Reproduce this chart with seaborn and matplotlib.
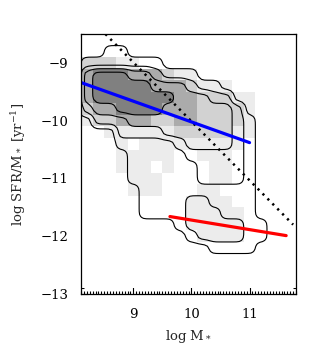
import numpy as np
import matplotlib
matplotlib.use("Agg")
import matplotlib.pyplot as plt
from matplotlib.colors import ListedColormap, BoundaryNorm
from matplotlib.ticker import MultipleLocator
import seaborn as sns

# 2d histogram bins (centres, 0.2 dex)
mass_bins = [8.2, 8.4, 8.6, 8.8, 9.0, 9.2, 9.4, 9.6, 9.8, 10.0,
             10.2, 10.4, 10.6, 10.8, 11.0, 11.2, 11.4, 11.6, 11.8]
ssfr_bins = [-8.6, -8.8, -9.0, -9.2, -9.4, -9.6, -9.8, -10.0, -10.2, -10.4, -10.6,
             -10.8, -11.0, -11.2, -11.4, -11.6, -11.8, -12.0, -12.2, -12.4, -12.6, -12.8]

# grey level of each bin (0 = empty ... 4 = densest), one string per ssfr row
shade_rows = [
    "0000000000000000000",
    "0000000000000000000",
    "2221100000000000000",
    "3444333211000000000",
    "3444443332111000000",
    "3444444433222110000",
    "2334444333222210000",
    "1223332233222210000",
    "0011111122222110000",
    "0001011111111100000",
    "0001111100111000000",
    "0001110100011000000",
    "0000111000011000000",
    "0000111000110000000",
    "0000000001111000000",
    "0000000001111100000",
    "0000000001111100000",
    "0000000000111100000",
    "0000000000000000000",
    "0000000000000000000",
    "0000000000000000000",
    "0000000000000000000",
]

# number of density contours enclosing each bin
contour_rows = [
    "0000000000000000000",
    "0011000000000000000",
    "1111111000000000000",
    "3444332111000000000",
    "3444443332110000000",
    "3444444433322000000",
    "2334444333333200000",
    "0222333333333210000",
    "0002222333333210000",
    "0001111123333210000",
    "0000111112222210000",
    "0000111111222210000",
    "0000111111222210000",
    "0000011111111110000",
    "0000011112211110000",
    "0000011112221110000",
    "0000000012222211000",
    "0000000001222211000",
    "0000000000011110000",
    "0000000000000000000",
    "0000000000000000000",
    "0000000000000000000",
]

# fitted relations
blue_mass = [8.1, 11.0]
blue_ssfr = [-9.34, -10.38]
red_mass = [9.63, 11.63]
red_ssfr = [-11.66, -11.99]
cut_mass = [8.52, 11.75]
cut_ssfr = [-8.50, -11.80]

grey_colors = ["white", "#ececec", "#d2d2d2", "#ababab", "#808080"]

sns.set_style("ticks")
plt.rcParams["font.family"] = ["DejaVu Serif"]
plt.rcParams["mathtext.fontset"] = "dejavuserif"

shade = np.array([[int(c) for c in r] for r in shade_rows])
dens = np.array([[int(c) for c in r] for r in contour_rows], dtype=float)
mx = np.array(mass_bins)
sy = np.array(ssfr_bins)

fig = plt.figure(figsize=(3.19, 3.62), dpi=100)
ax = fig.add_axes([0.254, 0.188, 0.674, 0.718])

cmap = ListedColormap(grey_colors)
norm = BoundaryNorm([-0.5, 0.5, 1.5, 2.5, 3.5, 4.5], cmap.N)
ax.pcolormesh(mx, sy, shade, cmap=cmap, norm=norm, shading="nearest")

# contours: pad, refine to 0.05 dex and smooth a little, like a density map
npad, f = 2, 4
dens_p = np.pad(dens, npad)
fine = np.kron(dens_p, np.ones((f, f)))
step = 0.2 / f
fx = mx[0] - 0.2 * npad - 0.1 + step / 2 + step * np.arange(fine.shape[1])
fy = sy[0] + 0.2 * npad + 0.1 - step / 2 - step * np.arange(fine.shape[0])
kern = np.exp(-0.5 * (np.arange(-4, 5) / 1.2) ** 2)
kern /= kern.sum()
fine = np.apply_along_axis(lambda v: np.convolve(v, kern, mode="same"), 0, fine)
fine = np.apply_along_axis(lambda v: np.convolve(v, kern, mode="same"), 1, fine)
ax.contour(fx, fy, fine, levels=[0.5, 1.5, 2.5, 3.5],
           colors="black", linewidths=0.8)

sns.lineplot(x=cut_mass, y=cut_ssfr, ax=ax, color="black", lw=1.8,
             linestyle=(0, (0.9, 1.9)), legend=False)
sns.lineplot(x=blue_mass, y=blue_ssfr, ax=ax, color="#0000ff", lw=2.3, legend=False)
sns.lineplot(x=red_mass, y=red_ssfr, ax=ax, color="#ff0000", lw=2.3, legend=False)

ax.set_xlim(8.1, 11.8)
ax.set_ylim(-13.0, -8.5)
ax.set_xticks([9, 10, 11])
ax.set_yticks([-13, -12, -11, -10, -9])
ax.xaxis.set_minor_locator(MultipleLocator(0.05))
ax.yaxis.set_minor_locator(MultipleLocator(0.1))
ax.tick_params(which="both", direction="in", top=True, right=True,
               width=0.8, labelsize=9.5, colors="black")
ax.tick_params(which="major", length=5)
ax.tick_params(which="minor", length=2.3)
ax.tick_params(axis="x", pad=10)
ax.tick_params(axis="y", pad=9)
for s in ax.spines.values():
    s.set_linewidth(0.9)
    s.set_color("black")

ax.set_xlabel("log M$_*$", fontsize=9.5)
ax.set_ylabel("log SFR/M$_*$ [yr$^{-1}$]", fontsize=9.5)
ax.xaxis.set_label_coords(0.5, -0.13)
ax.yaxis.set_label_coords(-0.245, 0.5)

fig.savefig("out.png", dpi=100)
